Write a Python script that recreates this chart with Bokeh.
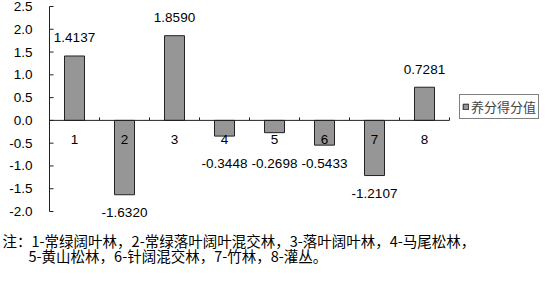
import numpy as np
from bokeh.plotting import figure
from bokeh.models import Range1d, Legend, LegendItem, Label
from bokeh.core.properties import value
from bokeh.embed import file_html
from bokeh.resources import INLINE

# ---- data ----
categories = [1, 2, 3, 4, 5, 6, 7, 8]
cat_labels = ["1", "2", "3", "4", "5", "6", "7", "8"]
scores = [1.4137, -1.6320, 1.8590, -0.3448, -0.2698, -0.5433, -1.2107, 0.7281]
series_name = "养分得分值"
y_ticks = [-2.0, -1.5, -1.0, -0.5, 0.0, 0.5, 1.0, 1.5, 2.0, 2.5]
note_line1 = "注：1-常绿阔叶林，2-常绿落叶阔叶混交林，3-落叶阔叶林，4-马尾松林，"
note_line2 = "5-黄山松林，6-针阔混交林，7-竹林，8-灌丛。"

# ---- style / layout (pixels) ----
NUM_FONT = "Liberation Sans"
CJK_FONT = "Noto Sans CJK SC"
BAR_FILL = "#969696"
BAR_LINE = "#222222"
W, H = 539, 267
PX_LEFT, PX_RIGHT = 49, 449      # plot area (y axis .. end of zero line)
PX_TOP, PX_BOTTOM = 6, 211       # y of top tick and bottom tick
NEG_LABEL_FLOOR = -0.55          # short negative bars: label pushed below category label

n = len(categories)
x = np.array(categories, dtype=float)
v = np.array(scores)
ymin, ymax = min(y_ticks), max(y_ticks)
x0, x1 = 0.5, n + 0.5

sx = (PX_RIGHT - PX_LEFT) / (x1 - x0)          # px per x unit
sy = (PX_BOTTOM - PX_TOP) / (ymax - ymin)       # px per y unit
xr = Range1d(x0 - PX_LEFT / sx, x1 + (W - PX_RIGHT) / sx)
yr = Range1d(ymin - (H - PX_BOTTOM) / sy, ymax + PX_TOP / sy)

p = figure(width=W, height=H, output_backend="svg", toolbar_location=None,
           x_range=xr, y_range=yr, x_axis_location=None, y_axis_location=None,
           min_border=0)
p.outline_line_color = None
p.grid.visible = False
p.background_fill_color = "white"
p.border_fill_color = "white"

# ---- y axis (drawn by hand so that it sits inside the canvas) ----
yt = np.array(y_ticks)
p.segment(x0=[x0], y0=[ymin], x1=[x0], y1=[ymax], line_color="#222222", line_width=1)
p.segment(x0=np.full(len(yt), x0), y0=yt, x1=np.full(len(yt), x0 + 4 / sx), y1=yt,
          line_color="#222222", line_width=1)
p.text(x=np.full(len(yt), x0), y=yt, text=["{:.1f}".format(t) for t in y_ticks],
       x_offset=-17, text_align="right", text_baseline="middle",
       text_font=value(NUM_FONT), text_font_size="13.5px", text_color="black")

# ---- bars ----
bars = p.vbar(x=x, top=v, bottom=0, width=0.4, fill_color=BAR_FILL,
              line_color=BAR_LINE, line_width=1)

# zero line and category boundary ticks
p.segment(x0=[x0], y0=[0], x1=[x1], y1=[0], line_color="#222222", line_width=1)
bounds = x + 0.5
p.segment(x0=bounds, y0=np.zeros(n), x1=bounds, y1=np.full(n, 3 / sy),
          line_color="#222222", line_width=1)

# category labels just below the zero line
p.text(x=x, y=np.zeros(n), text=cat_labels, y_offset=19, text_align="center",
       text_baseline="middle", text_font=value(NUM_FONT), text_font_size="13.5px",
       text_color="black")

# value labels
pos = v >= 0
neg = ~pos
txt = np.array(["{:.4f}".format(s) for s in scores])
p.text(x=x[pos], y=v[pos], text=list(txt[pos]), y_offset=-18, text_align="center",
       text_baseline="middle", text_font=value(NUM_FONT), text_font_size="13.5px",
       text_color="black")
p.text(x=x[neg], y=np.minimum(v[neg], NEG_LABEL_FLOOR), text=list(txt[neg]),
       y_offset=18, text_align="center", text_baseline="middle",
       text_font=value(NUM_FONT), text_font_size="13.5px", text_color="black")

# ---- legend ----
legend = Legend(items=[LegendItem(label=series_name, renderers=[bars])],
                location=(459, H - 119), orientation="vertical")
legend.border_line_color = "black"
legend.border_line_width = 1
legend.padding = 2
legend.spacing = 0
legend.margin = 0
legend.glyph_width = 7
legend.glyph_height = 7
legend.label_standoff = 2
legend.label_height = 14
legend.label_text_font = CJK_FONT
legend.label_text_font_size = "13px"
legend.background_fill_color = "white"
p.add_layout(legend)

# ---- notes ----
p.add_layout(Label(x=2, y=H - 240, x_units="screen", y_units="screen", text=note_line1,
                   text_font=CJK_FONT, text_font_size="14.5px", text_baseline="middle",
                   text_color="black"))
p.add_layout(Label(x=28, y=H - 255, x_units="screen", y_units="screen", text=note_line2,
                   text_font=CJK_FONT, text_font_size="14.5px", text_baseline="middle",
                   text_color="black"))

open("out.html", "w").write(file_html(p, INLINE))
